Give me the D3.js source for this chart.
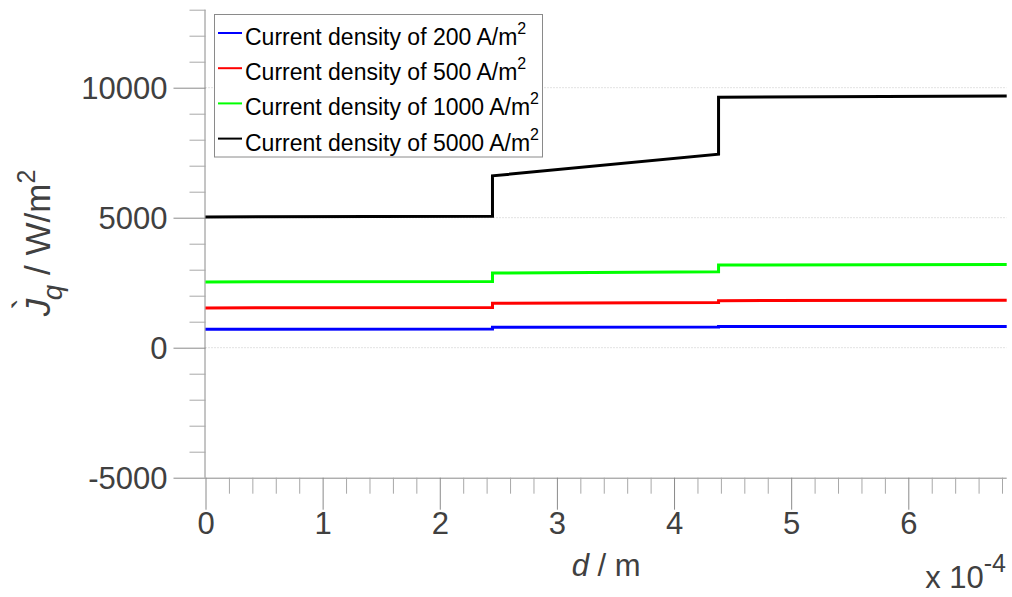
<!DOCTYPE html>
<html>
<head>
<meta charset="utf-8">
<script src="https://cdn.jsdelivr.net/npm/d3@7"></script>
<style>
  html, body { margin: 0; padding: 0; background: #fff; }
  svg { display: block; font-family: "Liberation Sans", Arial, sans-serif; }
</style>
</head>
<body>
<svg id="chart" width="1012" height="597"></svg>
<script>
// Positions along the layer stack, d in metres
const depth = [0, 2.45e-4, 2.45e-4, 4.38e-4, 4.38e-4, 6.84e-4];

// Heat flux for each applied current density, W/m^2
const flux200  = [710, 720, 785, 800, 815, 820];
const flux500  = [1530, 1545, 1710, 1740, 1810, 1825];
const flux1000 = [2530, 2545, 2870, 2920, 3180, 3200];
const flux5000 = [5030, 5060, 6610, 7440, 9630, 9680];

const seriesNames  = ["200", "500", "1000", "5000"];
const seriesColors = ["#0000ff", "#ff0000", "#00ff00", "#000000"];
const seriesValues = [flux200, flux500, flux1000, flux5000];

const xMajorTicks = [0, 1e-4, 2e-4, 3e-4, 4e-4, 5e-4, 6e-4];
const yMajorTicks = [-5000, 0, 5000, 10000];
const gridValues  = [0, 5000, 10000];

const svg = d3.select("#chart");
const plotLeft = 205.5, plotRight = 1006.7, plotTop = 9.7, plotBottom = 477.7;

const x = d3.scaleLinear().domain([0, 6.84e-4]).range([plotLeft, plotRight]);
const y = d3.scaleLinear().domain([-5000, 13000]).range([plotBottom, plotTop]);

const axisColor = "#8a8a8a";
const labelColor = "#404040";

// dotted horizontal grid
svg.append("g").selectAll("line").data(gridValues).join("line")
  .attr("x1", plotLeft).attr("x2", plotRight)
  .attr("y1", d => y(d)).attr("y2", d => y(d))
  .attr("stroke", "#c4c4c4").attr("stroke-width", 1)
  .attr("stroke-dasharray", "1,2");

// x axis: major ticks, minor ticks every 0.2e-4
const xMinor = d3.range(0, 6.84e-4 + 1e-9, 0.2e-4).filter(v => Math.abs(v / 1e-4 - Math.round(v / 1e-4)) > 1e-6);
const xAxis = d3.axisBottom(x).tickValues(xMajorTicks).tickSize(32).tickSizeOuter(0)
  .tickFormat(v => String(Math.round(v / 1e-4)));
const gx = svg.append("g").attr("transform", `translate(0,${plotBottom})`).call(xAxis);
gx.select(".domain").attr("stroke", axisColor).attr("d", `M${plotLeft},0.5H${plotRight}`);
gx.selectAll(".tick line").attr("stroke", axisColor);
gx.selectAll(".tick text").attr("fill", labelColor).attr("font-size", 31)
  .attr("font-family", "Liberation Sans, Arial, sans-serif").attr("y", 34).attr("dy", "0.71em");
const gxMinor = d3.axisBottom(x).tickValues(xMinor).tickSize(16).tickSizeOuter(0).tickFormat("");
const gxm = svg.append("g").attr("transform", `translate(0,${plotBottom})`).call(gxMinor);
gxm.select(".domain").remove();
gxm.selectAll(".tick line").attr("stroke", "#a8a8a8");

// y axis: major ticks every 5000, minor every 1000 (plain hyphen for negatives)
const yMinor = d3.range(-5000, 13001, 1000).filter(v => v % 5000 !== 0);
const yAxis = d3.axisLeft(y).tickValues(yMajorTicks).tickSize(32).tickSizeOuter(0).tickFormat(v => String(v));
const gy = svg.append("g").attr("transform", `translate(${plotLeft},0)`).call(yAxis);
gy.select(".domain").attr("stroke", axisColor).attr("d", `M-0.5,${plotTop}V${plotBottom}`);
gy.selectAll(".tick line").attr("stroke", axisColor);
gy.selectAll(".tick text").attr("fill", labelColor).attr("font-size", 31)
  .attr("font-family", "Liberation Sans, Arial, sans-serif").attr("x", -38).attr("dy", "0.36em");
const gyMinor = d3.axisLeft(y).tickValues(yMinor).tickSize(16).tickSizeOuter(0).tickFormat("");
const gym = svg.append("g").attr("transform", `translate(${plotLeft},0)`).call(gyMinor);
gym.select(".domain").remove();
gym.selectAll(".tick line").attr("stroke", "#a8a8a8");

// data lines
const line = d3.line().x((d, i) => x(depth[i])).y(d => y(d));
svg.append("g").selectAll("path").data(seriesValues).join("path")
  .attr("d", d => line(d))
  .attr("fill", "none")
  .attr("stroke", (d, i) => seriesColors[i])
  .attr("stroke-width", 3)
  .attr("stroke-linejoin", "miter");

// x axis label
const xl = svg.append("text").attr("x", (plotLeft + plotRight) / 2).attr("y", 576)
  .attr("text-anchor", "middle").attr("font-size", 31).attr("fill", labelColor);
xl.append("tspan").attr("font-style", "italic").text("d");
xl.append("tspan").text(" / m");

// exponent note under the x axis
const ex = svg.append("text").attr("x", 1006).attr("y", 588)
  .attr("text-anchor", "end").attr("font-size", 31).attr("fill", labelColor);
ex.append("tspan").text("x 10");
ex.append("tspan").attr("font-size", 25).attr("dy", -16).text("-4");

// y axis label (rotated)
const yl = svg.append("text").attr("transform", "translate(50,243) rotate(-90)")
  .attr("text-anchor", "middle").attr("font-size", 35).attr("fill", labelColor);
yl.append("tspan").attr("font-style", "italic").text("J");
yl.append("tspan").attr("dx", -11).attr("dy", -12).text("`");
yl.append("tspan").attr("font-style", "italic").attr("font-size", 28).attr("dx", -2).attr("dy", 24).text("q");
yl.append("tspan").attr("dy", -12).text(" / W/m");
yl.append("tspan").attr("font-size", 25).attr("dy", -15).text("2");

// legend
const lg = svg.append("g");
lg.append("rect").attr("x", 214.5).attr("y", 14.5).attr("width", 328).attr("height", 142.5)
  .attr("fill", "#fff").attr("stroke", "#8a8a8a").attr("stroke-width", 1);
const rowY = d3.scaleLinear().domain([0, 3]).range([45, 150.6]);
seriesNames.forEach((name, i) => {
  const by = rowY(i);
  lg.append("line").attr("x1", 218).attr("x2", 242)
    .attr("y1", by - 12).attr("y2", by - 12)
    .attr("stroke", seriesColors[i]).attr("stroke-width", 2);
  const t = lg.append("text").attr("x", 245).attr("y", by).attr("font-size", 23).attr("fill", "#000");
  t.append("tspan").text(`Current density of ${name} A/m`);
  t.append("tspan").attr("font-size", 16).attr("dy", -11).text("2");
});
</script>
</body>
</html>
